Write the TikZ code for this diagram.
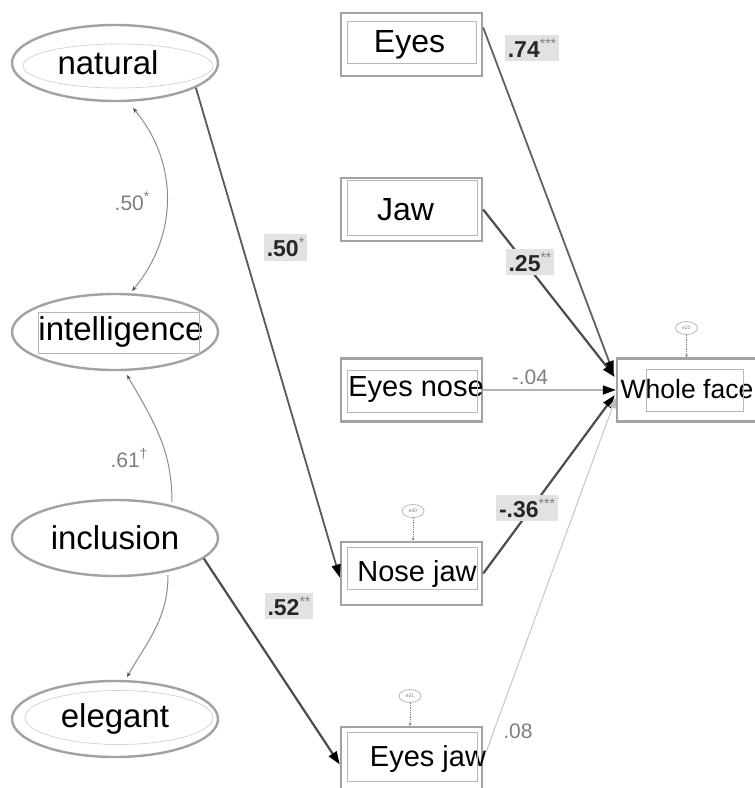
\documentclass[tikz,border=0pt]{standalone}
\usepackage{fontspec}
\setmainfont{Liberation Sans}
\usetikzlibrary{shapes.geometric,arrows.meta,calc}
\definecolor{bord}{HTML}{A2A2A2}
\definecolor{inbord}{HTML}{B8B8B8}
\definecolor{lblbg}{HTML}{E2E2E2}
\definecolor{lblgray}{HTML}{7E7E7E}
\newcommand\shtxt[2]{\makebox[0pt]{\hspace*{#1}#2}}
\newcommand\stars[1]{\raisebox{9pt}{\fontsize{14}{14}\selectfont\mdseries\color{gray}#1}}
\begin{document}
\begin{tikzpicture}[x=1pt,y=-1pt,
  lat/.style={ellipse,draw=bord,line width=2.4pt,fill=white,minimum width=206pt,minimum height=76pt,inner sep=0pt,font=\fontsize{33}{36}\selectfont},
  obs/.style={rectangle,draw=bord,line width=2.4pt,fill=white,minimum width=141pt,minimum height=63pt,inner sep=0pt},
  big/.style={font=\fontsize{32}{36}\selectfont},
  mid/.style={font=\fontsize{29}{32}\selectfont},
  innerline/.style={draw=inbord,line width=0.7pt},
  coef/.style={fill=lblbg,inner xsep=3pt,inner ysep=4pt,text=black!85,font=\fontsize{23}{25}\selectfont\bfseries},
  plainlbl/.style={inner sep=1pt,text=lblgray,font=\fontsize{21}{23}\selectfont},
  err/.style={ellipse,draw=inbord,line width=0.8pt,fill=white,minimum width=22pt,minimum height=13pt,inner sep=0pt,text=gray,font=\fontsize{5}{5}\selectfont},
  errline/.style={draw=gray,line width=0.8pt,densely dotted,-{Stealth[length=3pt,width=3pt]}},
  bigtip/.style={-{Triangle[length=13pt,width=9pt,color=black]}},
  covtip/.style={draw=gray!90,line width=1pt},
  smalltip/.tip={Stealth[length=5pt,width=4pt,color=black!70]}
]
\useasboundingbox (0,0) rectangle (755,788);

% latent ellipses
\node[lat] (natural) at (115,63) {\shtxt{-14pt}{natural}};
\node[lat] (intelligence) at (115,332) {\shtxt{12pt}{intelligence}};
\node[lat] (inclusion) at (115,538) {inclusion};
\node[lat] (elegant) at (115,719) {elegant};
\draw[innerline,draw=gray!35] ($(natural)+(3,3)$) ellipse [x radius=95pt, y radius=22pt];
\draw[innerline] ($(intelligence)+(-77,-20)$) rectangle ($(intelligence)+(84,21)$);
\draw[innerline,draw=gray!35] ($(elegant)+(4,-1.5)$) ellipse [x radius=94pt, y radius=27pt];

% observed boxes
\node[obs,big] (eyes) at (411.5,44.5) {\raisebox{-2pt}{\shtxt{-4pt}{Eyes}}};
\node[obs,big] (jaw) at (411.5,209.5) {\shtxt{-12pt}{Jaw}};
\node[obs,mid] (eyesnose) at (411.5,390) {\shtxt{9pt}{Eyes nose}};
\node[obs,mid] (nosejaw) at (411.5,573.5) {\shtxt{11pt}{Nose jaw}};
\node[obs,mid] (eyesjaw) at (411.5,758.5) {\shtxt{33pt}{Eyes jaw}};
\node[obs,font=\fontsize{26.5}{30}\selectfont] (wf) at (687.5,390) {\raisebox{2pt}{\shtxt{-1pt}{Whole face}}};

\draw[innerline] ($(eyes)+(-64.5,-23.5)$) rectangle ($(eyes)+(64.5,18.5)$);
\draw[innerline] ($(jaw)+(-64.5,-29.5)$) rectangle ($(jaw)+(65.5,25.5)$);
\draw[innerline] ($(eyesnose)+(-64.5,-20)$) rectangle ($(eyesnose)+(65.5,22)$);
\draw[innerline] ($(nosejaw)+(-64.5,-26.5)$) rectangle ($(nosejaw)+(65.5,15.5)$);
\draw[innerline] ($(eyesjaw)+(-64.5,-26.5)$) rectangle ($(eyesjaw)+(65.5,22.5)$);
\draw[innerline] ($(wf)+(-41.5,-21)$) rectangle ($(wf)+(55.5,21)$);

% error terms
\node[err] (e22) at (686.5,328) {e22};
\node[err] (e20) at (413,511) {e20};
\node[err] (e21) at (410,696) {e21};
\draw[errline] (e22.south) -- (e22.south |- wf.north);
\draw[errline] (e20.south) -- (e20.south |- nosejaw.north);
\draw[errline] (e21.south) -- (e21.south |- eyesjaw.north);

% covariances
\draw[covtip,smalltip-smalltip] ($(natural)+(18,45)$) to[out=-50,in=50] ($(intelligence)+(17,-41)$);
\draw[covtip,smalltip-] ($(intelligence)+(12,43)$) to[out=-60,in=90] ($(inclusion)+(57,-36)$);
\draw[covtip,-smalltip] ($(inclusion)+(53,37)$) to[out=-90,in=60] ($(elegant)+(12,-42)$);

% regression paths
\draw[bigtip,draw=black!65,line width=1.8pt] (natural.-17) -- ($(nosejaw.west)+(0,4)$);
\draw[bigtip,draw=black!70,line width=2.2pt] (inclusion.-13) -- ($(eyesjaw.west)+(0,6)$);
\draw[bigtip,draw=black!62,line width=1.8pt] ($(eyes.east)+(0,-17)$) -- ($(wf.west)+(-2,-16)$);
\draw[bigtip,draw=black!70,line width=2.2pt] (jaw.east) -- ($(wf.west)+(-1,-13)$);
\draw[bigtip,draw=gray!60,line width=1.6pt] (eyesnose.east) -- (wf.west);
\draw[bigtip,draw=black!70,line width=2.2pt] (nosejaw.east) -- ($(wf.west)+(-1,5)$);
\draw[-{Triangle[length=10pt,width=7pt,color=gray!50]},draw=gray!45,line width=1pt] ($(eyesjaw.east)+(2,-4)$) -- ($(wf.west)+(0,8)$);

% coefficient labels
\node[coef] (cnat) at (285.5,247.5) {.50\stars{*}};
\node[coef] (cinc) at (289,606) {.52\stars{**}};
\node[coef] (ceyes) at (532,48) {.74\stars{***}};
\node[coef] (cjaw) at (530,262) {.25\stars{**}};
\node[coef] (cnj) at (527,508) {-.36\stars{***}};
\node[plainlbl] (p1) at (132,201) {.50\stars{*}};
\node[plainlbl] (p2) at (129,458) {.61\stars{†}};
\node[plainlbl] (p3) at (530,377) {-.04};
\node[plainlbl] (p4) at (518,731) {.08};
\end{tikzpicture}
\end{document}
